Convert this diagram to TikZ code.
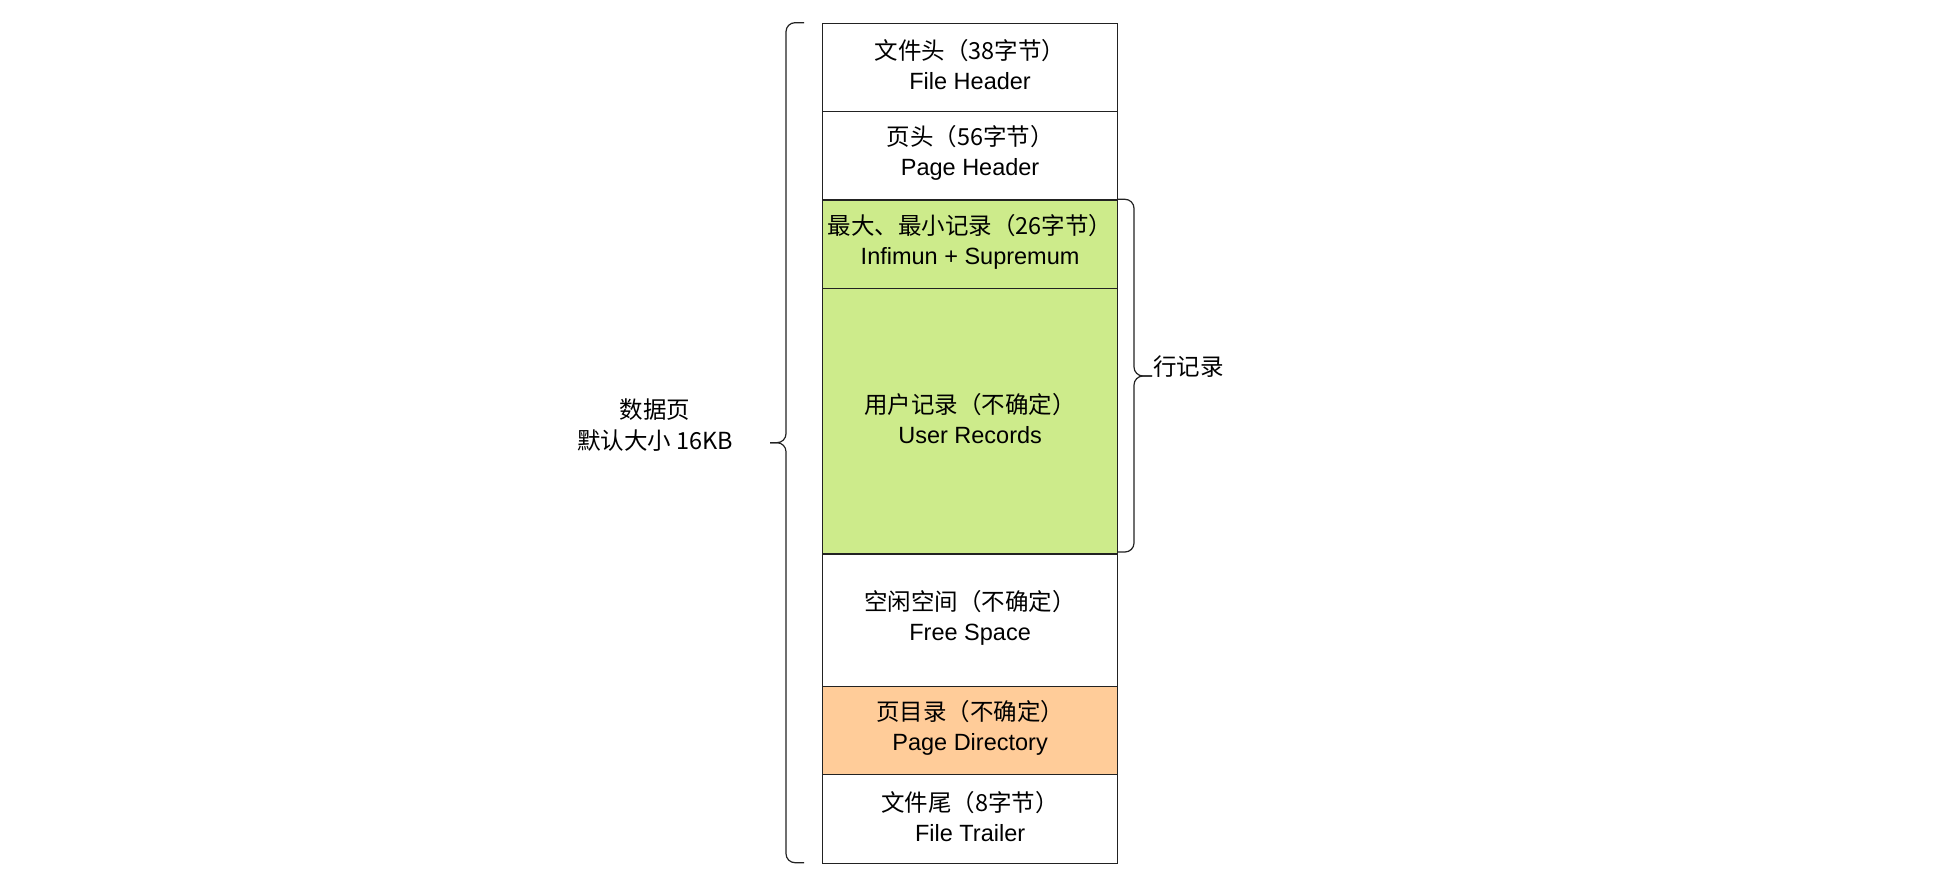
\documentclass[tikz,border=0pt]{standalone}
\usepackage{fontspec}
\setmainfont{Liberation Sans}
\newfontfamily\cjk{Noto Sans CJK SC}
\definecolor{greenfill}{HTML}{CDEB8B}
\definecolor{orangefill}{HTML}{FFCC99}
\definecolor{edge}{HTML}{222222}
\begin{document}
\begin{tikzpicture}[x=1pt,y=-1pt,
  cell/.style={draw=edge, line width=1.2pt, anchor=north west, minimum width=295pt, inner sep=0pt},
  txt/.style={inner sep=0pt, align=center, font=\fontsize{23.5}{30}\selectfont},
  lbl/.style={inner sep=0pt, align=center, font=\fontsize{23.5}{31}\selectfont},
  bracestyle/.style={draw=edge, line width=1.2pt, rounded corners=9pt}]
\useasboundingbox (0,0) rectangle (1954,888);
\fill[white] (0,0) rectangle (1954,888);
\node[cell, minimum height=88pt] (fh) at (822,22.7) {};
\node[cell, minimum height=88.6pt] (ph) at (822,110.7) {};
\node[cell, minimum height=88.4pt, fill=greenfill] (is) at (822,199.3) {};
\node[cell, minimum height=265.6pt, fill=greenfill] (ur) at (822,287.7) {};
\node[cell, minimum height=132.4pt] (fs) at (822,553.3) {};
\node[cell, minimum height=88.3pt, fill=orangefill] (pd) at (822,685.7) {};
\node[cell, minimum height=88.7pt] (ft) at (822,774) {};
\node[txt] (fht) at ([yshift=2.5pt]fh.center) {\cjk{文件头（}38\cjk{字节）}\\File Header};
\node[txt] (pht) at ([yshift=2.5pt]ph.center) {\cjk{页头（}56\cjk{字节）}\\Page Header};
\node[txt] (ist) at ([yshift=2.5pt]is.center) {\cjk{最大、最小记录（}26\cjk{字节）}\\Infimun + Supremum};
\node[txt] (urt) at ([yshift=2.5pt]ur.center) {\cjk{用户记录（不确定）}\\User Records};
\node[txt] (fst) at ([yshift=2.5pt]fs.center) {\cjk{空闲空间（不确定）}\\Free Space};
\node[txt] (pdt) at ([yshift=2.5pt]pd.center) {\cjk{页目录（不确定）}\\Page Directory};
\node[txt] (ftt) at ([yshift=2.5pt]ft.center) {\cjk{文件尾（}8\cjk{字节）}\\File Trailer};
% left brace
\coordinate (lt) at (804,22.7);
\coordinate (lb) at (804,862.7);
\coordinate (ltip) at (770,442.7);
\draw[bracestyle] (lt) -| (786,442.7) -- (ltip);
\draw[bracestyle] (lb) -| (786,442.7) -- (ltip);
\node[lbl, anchor=center] (page) at (655,425) {\cjk{数据页}\\\cjk{默认大小} 16KB};
% right brace
\coordinate (rt) at (1117,199.3);
\coordinate (rb) at (1117,552);
\coordinate (rtip) at (1152,376);
\draw[bracestyle] (rt) -| (1134,376) -- (rtip);
\draw[bracestyle] (rb) -| (1134,376) -- (rtip);
\node[lbl, anchor=west] (rows) at (1153,367) {\cjk{行记录}};
\end{tikzpicture}
\end{document}
